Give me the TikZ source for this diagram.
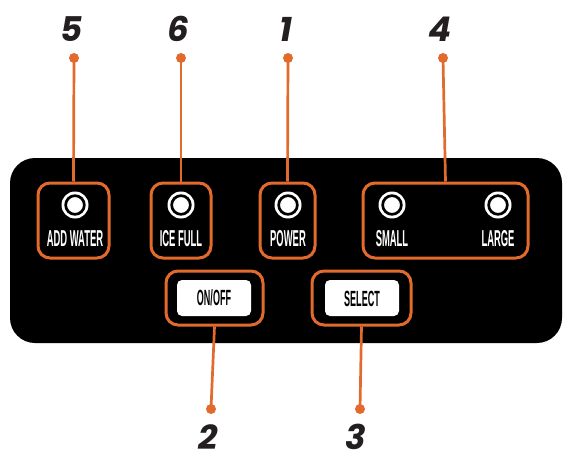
\documentclass[tikz,border=0pt]{standalone}
\usepackage{fontspec}
\setmainfont{Liberation Sans}
\newfontfamily\lblfont[FakeStretch=0.41]{Liberation Sans}
\newfontfamily\numfont{Poppins}
\definecolor{ora}{RGB}{226,106,44}
\definecolor{ink}{RGB}{35,31,32}
\tikzset{
  panel/.style={fill=black, rounded corners=25pt, inner sep=0, minimum width=552pt, minimum height=185pt},
  frame/.style={draw=ora, line width=3pt, rounded corners=12pt, inner sep=0},
  btn/.style={fill=white, rounded corners=5pt, inner sep=0, minimum width=74pt, minimum height=36pt},
  ledout/.style={circle, fill=white, inner sep=0, minimum size=27pt},
  ledin/.style={circle, draw=black, line width=2.7pt, inner sep=0, minimum size=18.7pt},
  lbl/.style={text=white, font=\lblfont\bfseries\fontsize{23}{23}\selectfont, inner sep=0, anchor=base},
  blbl/.style={text=black, font=\lblfont\bfseries\fontsize{22}{22}\selectfont, inner sep=0},
  num/.style={text=ink, font=\numfont\bfseries\itshape\fontsize{34}{34}\selectfont, inner sep=0, anchor=base},
  dot/.style={circle, fill=ora, inner sep=0, minimum size=10pt},
  lead/.style={draw=ora, line width=2.7pt}
}
\begin{document}
\begin{tikzpicture}[x=1pt,y=-1pt]
\useasboundingbox (0,0) rectangle (563,452);
\node[panel] (panel) at (286,250.5) {};
% frames
\node[frame, minimum width=71pt, minimum height=75pt] (f5) at (73.5,220.5) {};
\node[frame, minimum width=60pt, minimum height=75pt] (f6) at (181,220.5) {};
\node[frame, minimum width=55pt, minimum height=75pt] (f1) at (287.5,220.5) {};
\node[frame, minimum width=165pt, minimum height=75pt] (f4) at (445.5,220.5) {};
\node[frame, minimum width=97pt, minimum height=54pt] (f2) at (214.5,298) {};
\node[frame, minimum width=99pt, minimum height=54pt] (f3) at (361.5,298) {};
% buttons
\node[btn] (b2) at (214,298) {};
\node[btn] (b3) at (362,298) {};
\node[blbl] (t2) at (214,298) {ON/OFF};
\node[blbl] (t3) at (362,298.5) {SELECT};
% LEDs
\foreach \n/\x in {a/75,b/181,c/288,d/392,e/498}{
  \node[ledout] (lo\n) at (\x,205) {};
  \node[ledin] (li\n) at (\x,205) {};
}
% labels
\node[lbl] (la) at (75,246.5) {ADD WATER};
\node[lbl] (lb) at (181,246.5) {ICE FULL};
\node[lbl] (lc) at (288,246.5) {POWER};
\node[lbl] (ld) at (392,246.5) {SMALL};
\node[lbl] (le) at (498,246.5) {LARGE};
% leaders top
\node[dot] (d5) at (74,58) {};
\node[dot] (d6) at (181,58) {};
\node[dot] (d1) at (288,58) {};
\node[dot] (d4) at (443,58) {};
\draw[lead] (d5.center) -- (f5.north);
\draw[lead] (d6.center) -- (f6.north);
\draw[lead] (d1.center) -- (f1.north);
\draw[lead] (d4.center) -- (f4.north);
% leaders bottom
\node[dot] (d2) at (211,409) {};
\node[dot] (d3) at (360,409) {};
\draw[lead] (f2.south) -- (d2.center);
\draw[lead] (f3.south) -- (d3.center);
% numbers
\node[num] (n5) at (72,42) {5};
\node[num] (n6) at (178,42) {6};
\node[num] (n1) at (286,42) {1};
\node[num] (n4) at (440,42) {4};
\node[num] (n2) at (208,449) {2};
\node[num] (n3) at (356,449) {3};
\end{tikzpicture}
\end{document}
